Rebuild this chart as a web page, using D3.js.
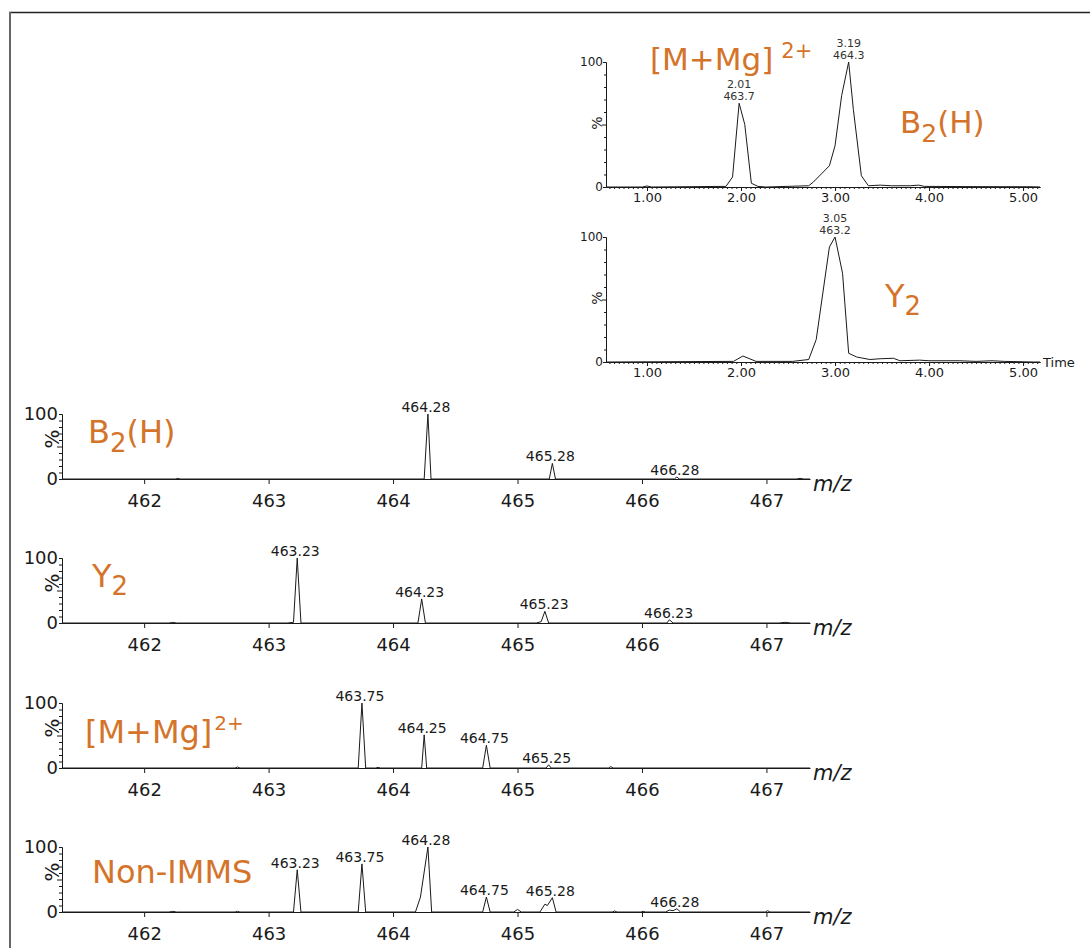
<!DOCTYPE html>
<html>
<head>
<meta charset="utf-8">
<script src="https://cdn.jsdelivr.net/npm/d3@7"></script>
<style>
body { margin: 0; background: #fff; }
text { font-family: "DejaVu Sans", Verdana, sans-serif; }
</style>
</head>
<body>
<div id="chart"></div>
<script>
// mass spectra, [m/z, % intensity]
const specB2H = [[461.34,0],[462.25,0],[462.27,1],[462.29,0],[464.25,0],[464.28,100],[464.305,0],
  [465.255,0],[465.28,24],[465.305,0],[466.26,0],[466.28,3],[466.30,0],[467.24,0],[467.27,1],[467.30,0],[467.35,0]];
const specY2 = [[461.34,0],[462.2,0],[462.23,1],[462.26,0],[463.15,0],[463.2,1],[463.23,100],[463.26,0],
  [464.2,0],[464.23,37],[464.26,0],[465.15,0],[465.19,2],[465.22,18],[465.25,0],[466.2,0],[466.22,5],[466.25,0],
  [467.1,0],[467.15,1],[467.2,0],[467.35,0]];
const specMMg = [[461.34,0],[462.73,0],[462.75,1.5],[462.77,0],[463.72,0],[463.75,100],[463.78,0],
  [463.86,0],[463.88,1],[463.9,0],[464.23,0],[464.25,51],[464.27,0],[464.72,0],[464.75,35],[464.78,0],
  [465.23,0],[465.25,5],[465.27,0],[465.73,0],[465.75,2],[465.77,0],[467.35,0]];
const specNon = [[461.34,0],[462.2,0],[462.23,1],[462.26,0],[462.73,0],[462.75,1],[462.77,0],
  [463.2,0],[463.23,65],[463.26,0],[463.72,0],[463.75,74],[463.78,0],[464.18,0],[464.22,23],[464.28,100],[464.31,0],
  [464.72,0],[464.75,23],[464.78,0],[464.97,0],[465.0,4],[465.03,0],[465.18,0],[465.22,12],[465.24,10],[465.28,22],[465.31,0],
  [465.76,0],[465.78,1.5],[465.8,0],[465.99,0],[466.01,1],[466.03,0],[466.19,0],[466.22,3],[466.25,2],[466.28,5],[466.31,0],
  [466.99,0],[467.01,2],[467.03,0],[467.35,0]];

// labelled peaks, [m/z, % intensity]
const labB2H = [[464.28,100],[465.28,24],[466.28,3]];
const labY2 = [[463.23,100],[464.23,37],[465.23,18],[466.23,5]];
const labMMg = [[463.75,100],[464.25,51],[464.75,35],[465.25,5]];
const labNon = [[463.23,65],[463.75,74],[464.28,100],[464.75,23],[465.28,22],[466.28,5]];

const mzTicks = [462, 463, 464, 465, 466, 467];

// drift time chromatograms, [time, %]
const chromMMg = [[0.57,0],[0.95,0],[1.0,0.8],[1.05,0],[1.84,0.5],[1.91,8],[1.98,67],[2.04,50],[2.11,3],
  [2.18,0.5],[2.26,0],[2.72,1],[2.77,4],[2.94,17],[3.0,33],[3.07,73],[3.145,100],[3.195,62],[3.28,9],
  [3.355,1],[3.48,1.5],[3.6,1],[3.8,1],[3.89,1.5],[3.95,0.5],[4.5,0.3],[5.11,0.2],[5.18,0]];
const chromY2 = [[0.57,0],[1.92,0.5],[2.02,4.8],[2.16,0.5],[2.55,0.5],[2.72,2],[2.80,18],[2.94,92],[3.0,100],
  [3.08,71],[3.145,7],[3.23,4],[3.37,2],[3.48,2.6],[3.62,3],[3.69,1],[3.9,1.5],[4.0,1],[4.32,1],[4.5,0.5],
  [4.67,1],[4.8,0.5],[5.11,0],[5.18,0]];
// [time, %, time label, m/z label]
const labChromMMg = [[1.98,67,"2.01","463.7"],[3.145,100,"3.19","464.3"]];
const labChromY2 = [[3.0,100,"3.05","463.2"]];
const timeTicks = [1, 2, 3, 4, 5];

const orange = "#d4742a";
const ink = "#1a1a1a";

const svg = d3.select("#chart").append("svg")
  .attr("width", 1090).attr("height", 948);

// frame
svg.append("line").attr("x1", 9).attr("x2", 1090).attr("y1", 12.5).attr("y2", 12.5)
  .attr("stroke", "#222").attr("stroke-width", 1.5);
svg.append("line").attr("x1", 10).attr("x2", 10).attr("y1", 12).attr("y2", 948)
  .attr("stroke", "#666").attr("stroke-width", 2);

function styleAxis(g, size) {
  g.select(".domain").attr("stroke", ink);
  g.selectAll(".tick line").attr("stroke", ink);
  g.selectAll(".tick text").attr("fill", ink).attr("font-size", size)
    .attr("font-family", "DejaVu Sans, Verdana, sans-serif");
}

function drawName(x, y, size, parts) {
  const t = svg.append("text").attr("x", x).attr("y", y)
    .attr("font-size", size).attr("fill", orange);
  parts.forEach(p => {
    t.append("tspan").text(p.t)
      .attr("dx", p.dx || 0).attr("dy", p.dy || 0)
      .attr("font-size", p.size || size);
  });
}

// ---------- mass spectra ----------
const spectra = [
  {data: specB2H, labels: labB2H, top: 414},
  {data: specY2, labels: labY2, top: 558},
  {data: specMMg, labels: labMMg, top: 703},
  {data: specNon, labels: labNon, top: 847}
];

const xMz = d3.scaleLinear().domain([461.34, 467.35]).range([62, 810]);

spectra.forEach(p => {
  const y0 = p.top + 65;
  const y = d3.scaleLinear().domain([0, 100]).range([y0, p.top]);
  const g = svg.append("g");

  const xa = g.append("g").attr("transform", `translate(0,${y0})`)
    .call(d3.axisBottom(xMz).tickValues(mzTicks).tickFormat(d3.format("d"))
      .tickSize(5).tickSizeOuter(0).tickPadding(10));
  styleAxis(xa, 18);

  const ym = g.append("g").attr("transform", "translate(62,0)")
    .call(d3.axisLeft(y).tickValues(d3.range(10, 100, 10)).tickFormat("").tickSize(3).tickSizeOuter(0));
  ym.selectAll(".tick line").attr("x2", d => d === 50 ? -5 : -3);
  styleAxis(ym, 0);
  const ya = g.append("g").attr("transform", "translate(62,0)")
    .call(d3.axisLeft(y).tickValues([0, 100]).tickSize(3).tickSizeOuter(0).tickPadding(1));
  styleAxis(ya, 18);

  g.append("text").attr("transform", `translate(52,${p.top + 25}) rotate(-90)`)
    .attr("text-anchor", "middle").attr("dy", "0.35em")
    .attr("font-size", 20).attr("fill", ink).text("%");

  g.append("text").attr("x", 813).attr("y", y0 + 12)
    .attr("font-size", 21).attr("font-style", "italic").attr("fill", ink).text("m/z");

  g.append("path").datum(p.data)
    .attr("fill", "none").attr("stroke", ink).attr("stroke-width", 1)
    .attr("d", d3.line().x(d => xMz(d[0])).y(d => y(d[1])));

  g.selectAll(".plab").data(p.labels).enter().append("text")
    .attr("x", d => xMz(d[0]) - 2).attr("y", d => y(d[1]) - 2)
    .attr("text-anchor", "middle").attr("font-size", 14).attr("fill", ink)
    .text(d => d[0].toFixed(2));
});

drawName(88, 443, 32, [{t: "B"}, {t: "2", size: 26, dy: 9}, {t: "(H)", dy: -9}]);
drawName(92, 587, 32, [{t: "Y"}, {t: "2", size: 26, dy: 8}]);
drawName(85, 743, 32, [{t: "[M+Mg]"}, {t: "2+", size: 20, dy: -13, dx: 2}]);
drawName(92, 883, 32, [{t: "Non-IMMS"}]);

// ---------- chromatograms ----------
const chroms = [
  {data: chromMMg, labels: labChromMMg, top: 62, time: false},
  {data: chromY2, labels: labChromY2, top: 237, time: true}
];

const xT = d3.scaleLinear().domain([0.564, 5.18]).range([606, 1040]);

chroms.forEach(p => {
  const y0 = p.top + 125;
  const y = d3.scaleLinear().domain([0, 100]).range([y0, p.top]);
  const g = svg.append("g");

  const xm = g.append("g").attr("transform", `translate(0,${y0})`)
    .call(d3.axisBottom(xT).tickValues(d3.range(0.6, 5.18, 0.05)).tickFormat("").tickSize(2).tickSizeOuter(0));
  styleAxis(xm, 0);
  const xa = g.append("g").attr("transform", `translate(0,${y0})`)
    .call(d3.axisBottom(xT).tickValues(timeTicks).tickFormat(d3.format(".2f"))
      .tickSize(4).tickSizeOuter(0).tickPadding(2));
  styleAxis(xa, 13);

  const ym = g.append("g").attr("transform", "translate(606,0)")
    .call(d3.axisLeft(y).tickValues(d3.range(10, 100, 10)).tickFormat("").tickSize(2).tickSizeOuter(0));
  ym.selectAll(".tick line").attr("x2", d => d === 50 ? -4 : -2);
  styleAxis(ym, 0);
  const ya = g.append("g").attr("transform", "translate(606,0)")
    .call(d3.axisLeft(y).tickValues([0, 100]).tickSize(3).tickSizeOuter(0).tickPadding(0));
  styleAxis(ya, 12);

  g.append("text").attr("transform", `translate(597,${p.top + 61}) rotate(-90)`)
    .attr("text-anchor", "middle").attr("dy", "0.35em")
    .attr("font-size", 14).attr("fill", ink).text("%");

  if (p.time) {
    g.append("text").attr("x", 1043).attr("y", y0 + 5)
      .attr("font-size", 13).attr("fill", ink).text("Time");
  }

  g.append("path").datum(p.data)
    .attr("fill", "none").attr("stroke", ink).attr("stroke-width", 1)
    .attr("d", d3.line().x(d => xT(d[0])).y(d => y(d[1])));

  const lab = g.selectAll(".clab").data(p.labels).enter().append("text")
    .attr("text-anchor", "middle").attr("font-size", 11).attr("fill", "#333");
  lab.append("tspan").attr("x", d => xT(d[0])).attr("y", d => y(d[1]) - 15).text(d => d[2]);
  lab.append("tspan").attr("x", d => xT(d[0])).attr("y", d => y(d[1]) - 3).text(d => d[3]);
});

drawName(650, 70, 31, [{t: "[M+Mg]"}, {t: "2+", size: 21, dy: -12, dx: 8}]);
drawName(900, 133, 31, [{t: "B"}, {t: "2", size: 25, dy: 9}, {t: "(H)", dy: -9}]);
drawName(885, 307, 32, [{t: "Y"}, {t: "2", size: 26, dy: 8}]);
</script>
</body>
</html>
